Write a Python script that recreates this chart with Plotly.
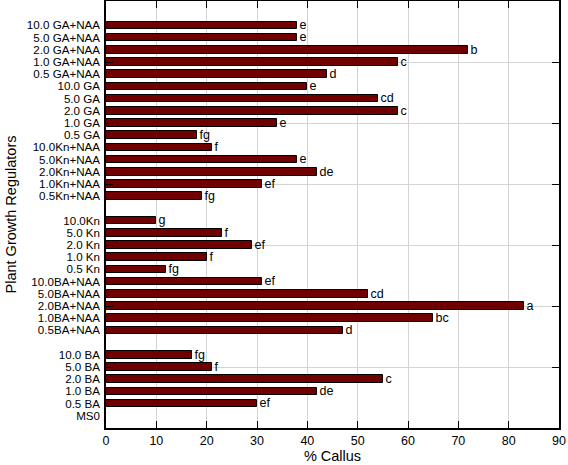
import plotly.graph_objects as go

# Groups listed from bottom to top; a gap slot separates some groups
groups = [
    ["MS0", "0.5 BA", "1.0 BA", "2.0 BA", "5.0 BA", "10.0 BA"],
    ["0.5BA+NAA", "1.0BA+NAA", "2.0BA+NAA", "5.0BA+NAA", "10.0BA+NAA",
     "0.5 Kn", "1.0 Kn", "2.0 Kn", "5.0 Kn", "10.0Kn"],
    ["0.5Kn+NAA", "1.0Kn+NAA", "2.0Kn+NAA", "5.0Kn+NAA", "10.0Kn+NAA",
     "0.5 GA", "1.0 GA", "2.0 GA", "5.0 GA", "10.0 GA",
     "0.5 GA+NAA", "1.0 GA+NAA", "2.0 GA+NAA", "5.0 GA+NAA", "10.0 GA+NAA"],
]

callus = {
    "MS0": 0, "0.5 BA": 30, "1.0 BA": 42, "2.0 BA": 55, "5.0 BA": 21, "10.0 BA": 17,
    "0.5BA+NAA": 47, "1.0BA+NAA": 65, "2.0BA+NAA": 83, "5.0BA+NAA": 52, "10.0BA+NAA": 31,
    "0.5 Kn": 12, "1.0 Kn": 20, "2.0 Kn": 29, "5.0 Kn": 23, "10.0Kn": 10,
    "0.5Kn+NAA": 19, "1.0Kn+NAA": 31, "2.0Kn+NAA": 42, "5.0Kn+NAA": 38, "10.0Kn+NAA": 21,
    "0.5 GA": 18, "1.0 GA": 34, "2.0 GA": 58, "5.0 GA": 54, "10.0 GA": 40,
    "0.5 GA+NAA": 44, "1.0 GA+NAA": 58, "2.0 GA+NAA": 72, "5.0 GA+NAA": 38, "10.0 GA+NAA": 38,
}

letters = {
    "MS0": "", "0.5 BA": "ef", "1.0 BA": "de", "2.0 BA": "c", "5.0 BA": "f", "10.0 BA": "fg",
    "0.5BA+NAA": "d", "1.0BA+NAA": "bc", "2.0BA+NAA": "a", "5.0BA+NAA": "cd", "10.0BA+NAA": "ef",
    "0.5 Kn": "fg", "1.0 Kn": "f", "2.0 Kn": "ef", "5.0 Kn": "f", "10.0Kn": "g",
    "0.5Kn+NAA": "fg", "1.0Kn+NAA": "ef", "2.0Kn+NAA": "de", "5.0Kn+NAA": "e", "10.0Kn+NAA": "f",
    "0.5 GA": "fg", "1.0 GA": "e", "2.0 GA": "c", "5.0 GA": "cd", "10.0 GA": "e",
    "0.5 GA+NAA": "d", "1.0 GA+NAA": "c", "2.0 GA+NAA": "b", "5.0 GA+NAA": "e", "10.0 GA+NAA": "e",
}

x_ticks = [0, 10, 20, 30, 40, 50, 60, 70, 80, 90]

# slot positions derived from group structure (one empty slot between groups)
labels, pos = [], []
p = 1
for gi, g in enumerate(groups):
    for name in g:
        labels.append(name)
        pos.append(p)
        p += 1
    p += 1
vals = [callus[n] for n in labels]
txt = [letters[n] for n in labels]

FONT = "Liberation Sans, Arial, Helvetica, sans-serif"
GRID = "#d4d4d4"

fig = go.Figure()
# visible bars on the main axis (which carries ticks and grid)
fig.add_trace(go.Bar(
    x=vals, y=pos, orientation="h", width=0.63,
    marker=dict(color="#700000", line=dict(color="black", width=1)),
    text=txt, textposition="outside", constraintext="none", cliponaxis=False,
    textfont=dict(size=12.5, color="black", family=FONT),
    showlegend=False,
))
# transparent copy on the label axis so that axis is rendered
fig.add_trace(go.Bar(
    x=vals, y=pos, orientation="h", width=0.63, yaxis="y2",
    marker=dict(color="rgba(0,0,0,0)", line=dict(width=0)),
    hoverinfo="skip", showlegend=False,
))

fig.update_layout(
    width=568, height=465,
    margin=dict(l=106, r=9, t=1, b=37, autoexpand=False),
    paper_bgcolor="white", plot_bgcolor="white",
    font=dict(family=FONT, size=12, color="black"),
    bargap=0,
    xaxis=dict(
        range=[0, 90], tickvals=x_ticks, ticks="inside", ticklen=7, tickwidth=1,
        tickcolor="black", showline=True, linecolor="black", linewidth=1.5,
        mirror="ticks", showgrid=True, gridcolor=GRID, gridwidth=1,
        zeroline=False, tickfont=dict(size=12.5), automargin=False,
        title=dict(text="% Callus", font=dict(size=14.5), standoff=4),
    ),
    yaxis=dict(
        range=[0, 35], tick0=0, dtick=5, ticks="inside", ticklen=7,
        tickcolor="black", showticklabels=False, showgrid=True,
        gridcolor=GRID, gridwidth=1, zeroline=False, automargin=False,
        showline=True, linecolor="black", linewidth=1.5, mirror="ticks",
    ),
    yaxis2=dict(
        overlaying="y", anchor="x", side="left", range=[0, 35],
        tickmode="array", tickvals=pos, ticktext=labels,
        ticks="", showgrid=False, zeroline=False, automargin=False,
        showline=False, tickfont=dict(size=11.6), ticklabelstandoff=5,
        title=dict(text="Plant Growth Regulators", font=dict(size=14.5), standoff=6),
    ),
)

fig.write_html("out.html", config={"displayModeBar": False},
               post_script="document.body.style.margin='0px';")
